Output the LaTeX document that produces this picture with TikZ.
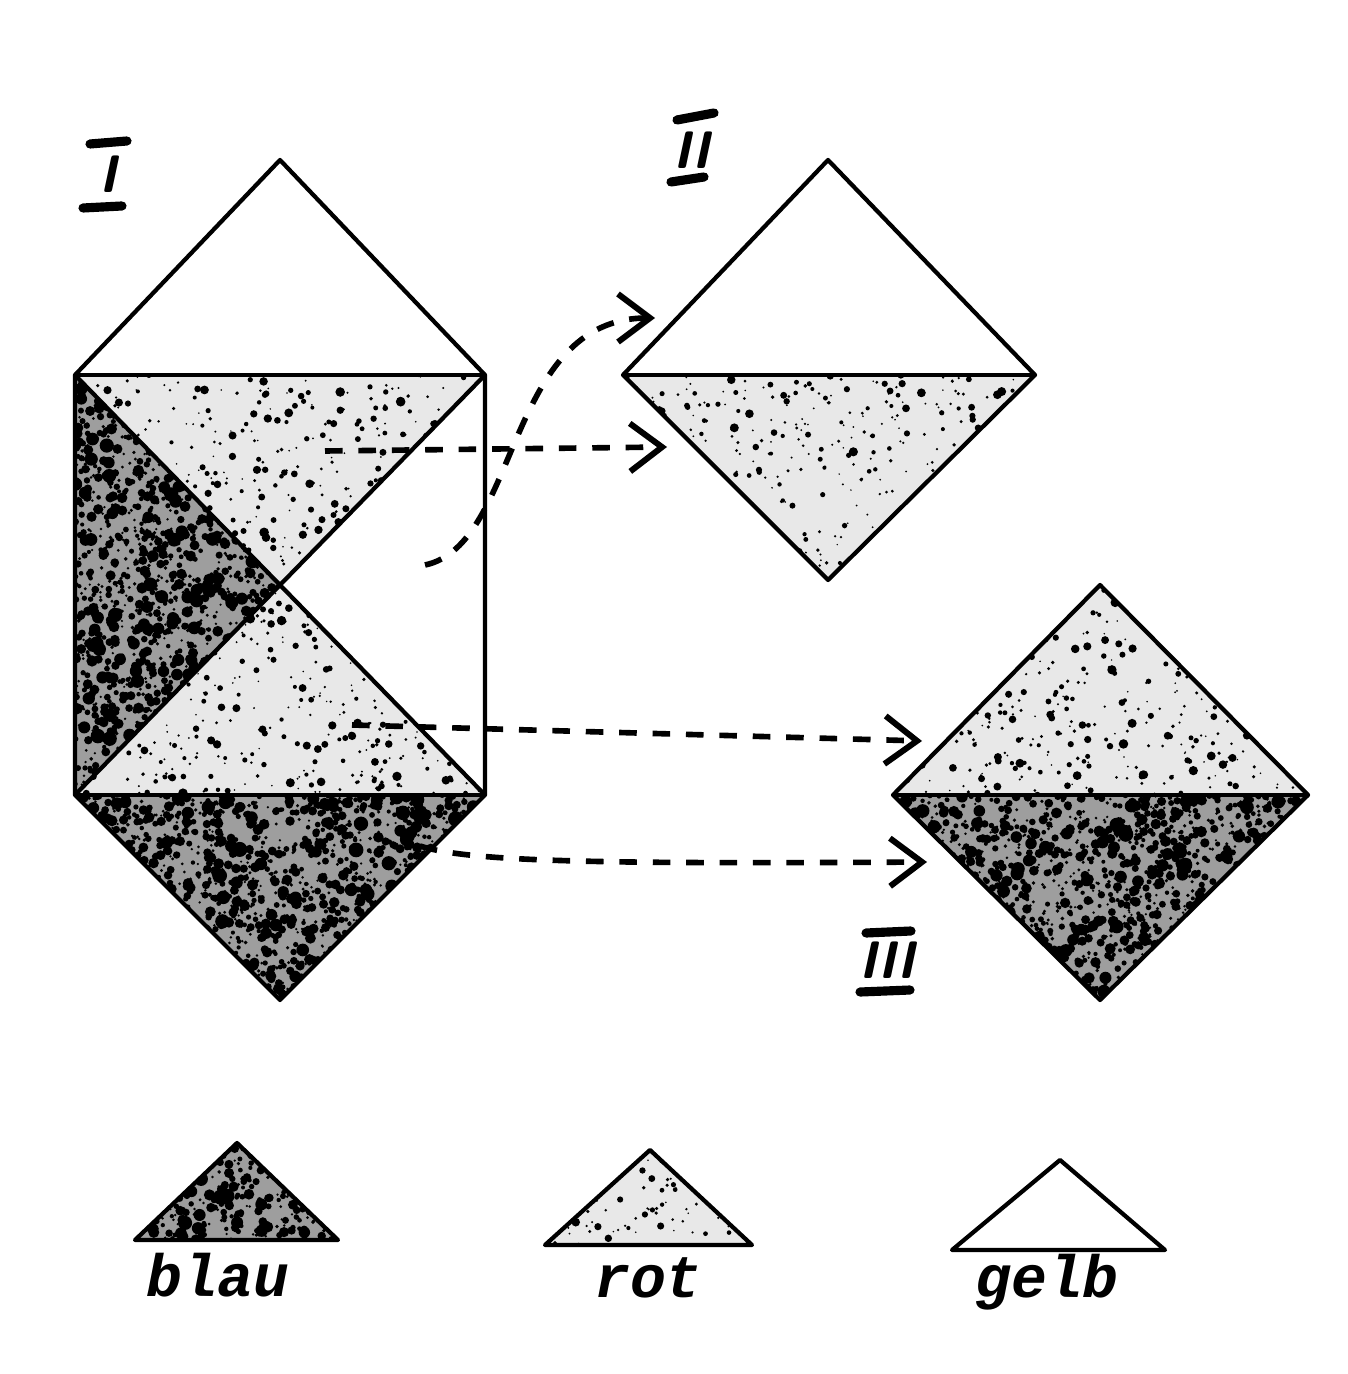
\documentclass[tikz,border=0pt]{standalone}
\usepackage{fontspec}
\setmonofont{Liberation Mono}
\usetikzlibrary{arrows.meta}
\newcommand\speckfill[7]{%
  \begin{scope}
    \clip #1;
    \foreach \i in {1,...,#6}{%
      \pgfmathsetmacro\xx{#2+rnd*(#3-#2)}%
      \pgfmathsetmacro\yy{#4+rnd*(#5-#4)}%
      \pgfmathsetmacro\rr{(0.3+rnd*rnd*1.6)*#7}%
      \fill (\xx,\yy) circle[radius=\rr pt];
    }
  \end{scope}}
\begin{document}
\begin{tikzpicture}[x=0.01cm,y=-0.01cm,
  edge/.style={line width=1.2pt,line join=round},
  bluefill/.style={fill=black!38},
  redfill/.style={fill=black!9},
  flow/.style={line width=1.6pt,dash pattern=on 5pt off 4.5pt,-{Straight Barb[length=3.2mm,width=4.8mm,line width=1.7pt]}},
  numeral/.style={font=\sffamily\bfseries\itshape\fontsize{15}{15}\selectfont,inner sep=0pt},
  legendtext/.style={font=\ttfamily\bfseries\itshape\fontsize{17}{17}\selectfont,anchor=base,inner sep=0pt},
  bar/.style={line width=2.6pt,line cap=round}]
\useasboundingbox (0,0) rectangle (1347,1374);
\pgfmathsetseed{4711}
% ---- Figure I ----
\coordinate (IA) at (280,160);
\coordinate (ITL) at (75,375);
\coordinate (ITR) at (485,375);
\coordinate (IBL) at (75,795);
\coordinate (IBR) at (485,795);
\coordinate (IC) at (280,585);
\coordinate (IB) at (280,1000);
\fill[redfill] (ITL)--(ITR)--(IC)--cycle;
\fill[bluefill] (ITL)--(IC)--(IBL)--cycle;
\fill[redfill] (IBL)--(IBR)--(IC)--cycle;
\fill[bluefill] (IBL)--(IBR)--(IB)--cycle;
\speckfill{(ITL)--(ITR)--(IC)--cycle}{75}{485}{375}{585}{450}{0.8}
\speckfill{(ITL)--(IC)--(IBL)--cycle}{75}{280}{375}{795}{1800}{1.15}
\speckfill{(IBL)--(IBR)--(IC)--cycle}{75}{485}{585}{795}{450}{0.8}
\speckfill{(IBL)--(IBR)--(IB)--cycle}{75}{485}{795}{1000}{1800}{1.15}
\draw[edge] (ITL)--(IA)--(ITR)--(IBR)--(IB)--(IBL)--cycle;
\draw[edge] (ITL)--(ITR);
\draw[edge] (IBL)--(IBR);
\draw[edge] (ITL)--(IBR);
\draw[edge] (ITR)--(IBL);
% ---- Figure II ----
\coordinate (IIT) at (828,160);
\coordinate (IIL) at (623,375);
\coordinate (IIR) at (1035,375);
\coordinate (IIB) at (828,580);
\fill[redfill] (IIL)--(IIR)--(IIB)--cycle;
\speckfill{(IIL)--(IIR)--(IIB)--cycle}{623}{1035}{375}{580}{450}{0.8}
\draw[edge] (IIT)--(IIR)--(IIB)--(IIL)--cycle;
\draw[edge] (IIL)--(IIR);
% ---- Figure III ----
\coordinate (IIIT) at (1100,585);
\coordinate (IIIL) at (893,795);
\coordinate (IIIR) at (1308,795);
\coordinate (IIIB) at (1100,1000);
\fill[redfill] (IIIL)--(IIIR)--(IIIT)--cycle;
\fill[bluefill] (IIIL)--(IIIR)--(IIIB)--cycle;
\speckfill{(IIIL)--(IIIR)--(IIIT)--cycle}{893}{1308}{585}{795}{450}{0.8}
\speckfill{(IIIL)--(IIIR)--(IIIB)--cycle}{893}{1308}{795}{1000}{1800}{1.15}
\draw[edge] (IIIT)--(IIIR)--(IIIB)--(IIIL)--cycle;
\draw[edge] (IIIL)--(IIIR);
% ---- numerals ----
\node[numeral] (n1) at (108,174) {I};
\draw[bar] (90,144)--(127,141);
\draw[bar] (83,208)--(122,206);
\node[numeral] (n2) at (692,150) {II};
\draw[bar] (677,120)--(714,113);
\draw[bar] (671,182)--(704,177);
\node[numeral] (n3) at (887,960) {III};
\draw[bar] (866,933)--(911,931);
\draw[bar] (860,992)--(910,990);
% ---- arrows ----
\coordinate (a1s) at (325,451);
\coordinate (a1e) at (667,447);
\draw[flow] (a1s) -- (a1e);
\coordinate (a2s) at (425,565);
\coordinate (a2e) at (655,318);
\draw[flow] (a2s) .. controls (520,545) and (505,318) .. (a2e);
\coordinate (a3s) at (352,725);
\coordinate (a3e) at (922,741);
\draw[flow] (a3s) -- (a3e);
\coordinate (a4s) at (420,846);
\coordinate (a4e) at (927,862);
\draw[flow] (a4s) .. controls (470,862) and (600,864) .. (a4e);
% ---- legend ----
\coordinate (lb1) at (135,1240);
\coordinate (lb2) at (338,1240);
\coordinate (lb3) at (237,1143);
\fill[bluefill] (lb1)--(lb2)--(lb3)--cycle;
\speckfill{(lb1)--(lb2)--(lb3)--cycle}{135}{338}{1143}{1240}{420}{1.15}
\draw[edge] (lb1)--(lb2)--(lb3)--cycle;
\coordinate (lr1) at (545,1245);
\coordinate (lr2) at (752,1245);
\coordinate (lr3) at (650,1150);
\fill[redfill] (lr1)--(lr2)--(lr3)--cycle;
\speckfill{(lr1)--(lr2)--(lr3)--cycle}{545}{752}{1150}{1245}{110}{0.8}
\draw[edge] (lr1)--(lr2)--(lr3)--cycle;
\coordinate (lg1) at (952,1250);
\coordinate (lg2) at (1165,1250);
\coordinate (lg3) at (1060,1160);
\draw[edge] (lg1)--(lg2)--(lg3)--cycle;
\node[legendtext] (tb) at (218,1296) {blau};
\node[legendtext] (tr) at (648,1297) {rot};
\node[legendtext] (tg) at (1047,1297) {gelb};
\end{tikzpicture}
\end{document}
